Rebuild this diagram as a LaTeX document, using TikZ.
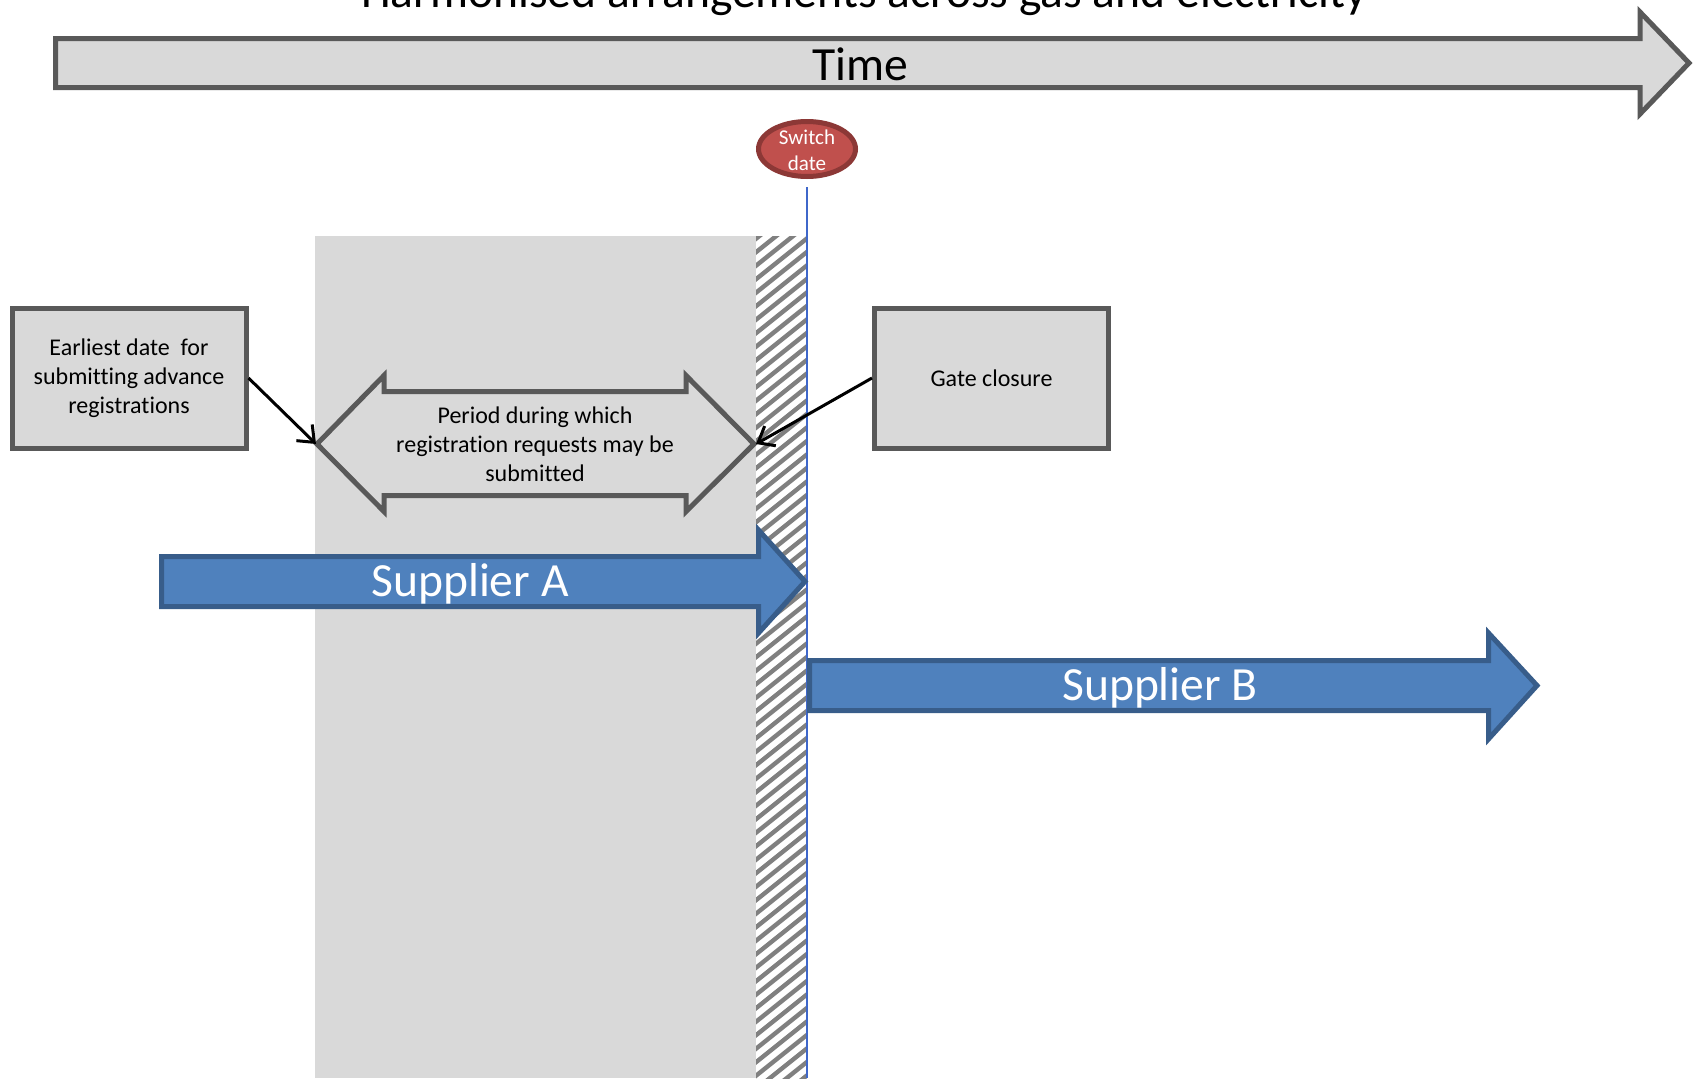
\documentclass[tikz,border=0pt]{standalone}
\usepackage{fontspec}
\setmainfont{Carlito}[Ligatures=NoCommon]
\usetikzlibrary{arrows.meta}

\definecolor{panel}{HTML}{D9D9D9}
\definecolor{edge}{HTML}{595959}
\definecolor{supfill}{HTML}{4F81BD}
\definecolor{supedge}{HTML}{385D8A}
\definecolor{datefill}{HTML}{C0504D}
\definecolor{dateedge}{HTML}{8C3836}
\definecolor{hatchline}{HTML}{808080}

\tikzset{
  bigtext/.style={font=\fontsize{35.7}{43}\selectfont},
  boxtext/.style={font=\fontsize{18}{21.75}\selectfont, align=center},
  greyshape/.style={fill=panel, draw=edge, line width=3.75pt, line join=miter},
  infobox/.style={greyshape, rectangle, minimum width=175.5pt,
                  minimum height=105pt, inner sep=0pt, boxtext},
  supplier/.style={fill=supfill, draw=supedge, line width=3.75pt, line join=miter},
  pointer/.style={draw=black, line width=2.25pt,
                  -{Straight Barb[length=10.5pt,width=17pt,line width=2.25pt]}},
}

\begin{document}
\begin{tikzpicture}[x=0.75pt, y=-0.75pt]
  \clip (0,0) rectangle (1701,1078);

  % heading, running off the top edge
  \node[bigtext, anchor=base] (heading) at (864,7)
    {Harmonised arrangements across gas and electricity};

  % time axis
  \draw[greyshape] (55.5,38.5) -- (1640,38.5) -- (1640,12) -- (1689,63)
    -- (1640,114) -- (1640,87.5) -- (55.5,87.5) -- cycle;
  \node[bigtext] (time) at (860,64) {Time};

  % registration window and gate closure strip
  \fill[panel] (315,236) rectangle (756,1078);
  \begin{scope}
    \clip (756,236) rectangle (807,1078);
    \foreach \y in {230,243.5,...,1140}
      \draw[hatchline, line width=3.3pt] (750,\y) -- (813,\y-50.4);
  \end{scope}

  % switch date marker
  \draw[blue!20!supfill, line width=1.6pt] (807,187) -- (807,1078);
  \draw[fill=datefill, draw=dateedge, line width=3.75pt]
    (807,149) ellipse [x radius=48.5, y radius=27.5];
  \node[text=white, font=\fontsize{15.8}{19.5}\selectfont, align=center]
    (switch) at (807,150) {Switch\\date};

  % period double arrow
  \draw[greyshape] (317,444) -- (384,375.5) -- (384,391.5) -- (686,391.5)
    -- (686,375.5) -- (754,444) -- (686,511.5) -- (686,495.5) -- (384,495.5)
    -- (384,511.5) -- cycle;
  \coordinate (periodL) at (316,444);
  \coordinate (periodR) at (756,444);
  \node[boxtext] (period) at (535,444)
    {Period during which\\registration requests may be\\submitted};

  % explanatory boxes
  \node[infobox] (earliest) at (129,378)
    {Earliest date\ \ for\\submitting advance\\registrations};
  \node[infobox] (gate) at (991.5,378) {Gate closure};

  \draw[pointer] (earliest.east) -- (periodL);
  \draw[pointer] (gate.west) -- (periodR);

  % suppliers
  \draw[supplier] (161.5,556.5) -- (758.5,556.5) -- (758.5,530) -- (805,581.5)
    -- (758.5,633) -- (758.5,606.5) -- (161.5,606.5) -- cycle;
  \node[bigtext, text=white] (supA) at (470,584) {Supplier A};

  \draw[supplier] (809.5,660.5) -- (1488.5,660.5) -- (1488.5,633) -- (1537,685.5)
    -- (1488.5,739) -- (1488.5,710.5) -- (809.5,710.5) -- cycle;
  \node[bigtext, text=white] (supB) at (1160,688) {Supplier B};
\end{tikzpicture}
\end{document}
